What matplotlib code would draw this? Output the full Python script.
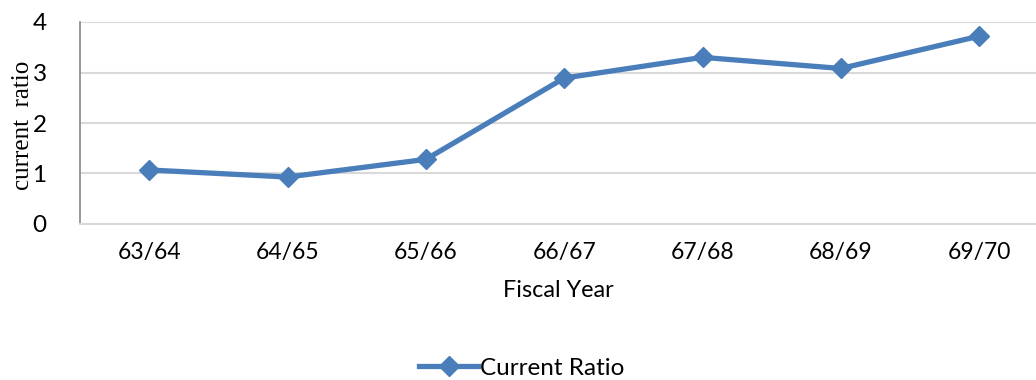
import matplotlib.pyplot as plt

years = ["63/64", "64/65", "65/66", "66/67", "67/68", "68/69", "69/70"]
current_ratio = [1.07, 0.93, 1.28, 2.89, 3.30, 3.08, 3.72]

blue = "#4A7EBB"
fig = plt.figure(figsize=(10.36, 3.8), dpi=100)
ax = fig.add_axes([80 / 1036, 1 - 224 / 380, 1 - 80 / 1036, 202 / 380])

x = list(range(len(years)))
ax.plot(x, current_ratio, color=blue, lw=3.8, marker="D", markersize=10,
        label="Current Ratio", zorder=3)

ax.set_xlim(-0.5, 6.41)
ax.set_ylim(0, 4)
ax.set_yticks([0, 1, 2, 3, 4])
ax.set_xticks(x)
ax.set_xticklabels(years)
ax.grid(axis="y", color="#D9D9D9", lw=1.5)
ax.set_axisbelow(True)

for s in ["top", "right"]:
    ax.spines[s].set_visible(False)
ax.spines["left"].set_color("#868686")
ax.spines["left"].set_linewidth(1.2)
ax.spines["bottom"].set_color("#D9D9D9")
ax.spines["bottom"].set_linewidth(1.5)

ax.tick_params(axis="both", length=0, colors="black")
ax.tick_params(axis="y", pad=24, labelsize=17.5)
ax.tick_params(axis="x", pad=13, labelsize=16.5)
for lab in ax.get_xticklabels() + ax.get_yticklabels():
    lab.set_family("Lato")

ax.set_xlabel("Fiscal Year", family="Lato", fontsize=16.8, labelpad=12)
ax.set_ylabel("current  ratio", family="Liberation Serif", fontsize=18)
ax.yaxis.set_label_coords(-46 / 956, 0.49)

fig.legend(loc="center", bbox_to_anchor=(522 / 1036, 1 - 368 / 380), frameon=False,
           prop={"family": "Lato", "size": 17.5}, handlelength=2.4, handletextpad=0.1)

fig.savefig("out.png", dpi=100)
